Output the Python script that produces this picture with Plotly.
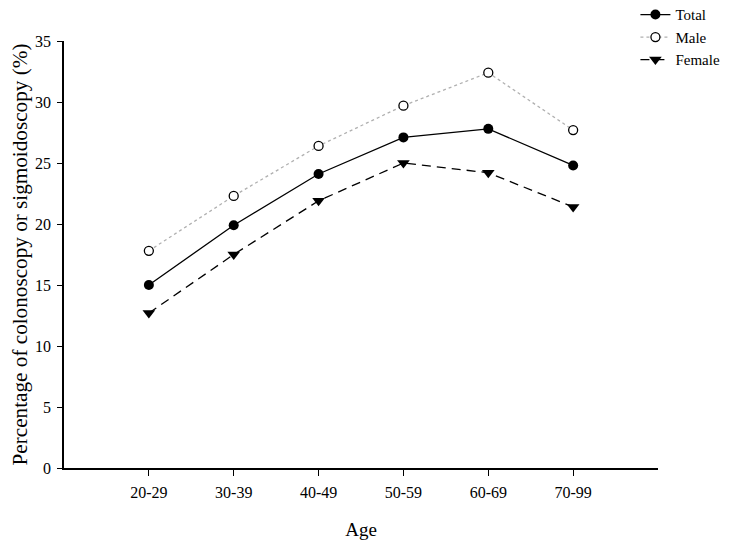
import plotly.graph_objects as go

age_groups = ["20-29", "30-39", "40-49", "50-59", "60-69", "70-99"]
total = [15.0, 19.9, 24.1, 27.1, 27.8, 24.8]
male = [17.8, 22.3, 26.4, 29.7, 32.4, 27.7]
female = [12.7, 17.5, 21.9, 25.0, 24.2, 21.4]
y_ticks = [0, 5, 10, 15, 20, 25, 30, 35]

FONT = "Liberation Serif, Times New Roman, serif"
x_idx = list(range(len(age_groups)))

fig = go.Figure()
fig.add_trace(go.Scatter(
    x=x_idx, y=total, name="Total", mode="lines+markers",
    line=dict(color="black", width=1.3),
    marker=dict(symbol="circle", size=10, color="black"),
))
fig.add_trace(go.Scatter(
    x=x_idx, y=male, name="Male", mode="lines+markers",
    line=dict(color="#b0b0b0", width=1.3, dash="dot"),
    marker=dict(symbol="circle", size=9, color="white",
                line=dict(color="black", width=1.3)),
))
fig.add_trace(go.Scatter(
    x=x_idx, y=female, name="Female", mode="lines+markers",
    line=dict(color="black", width=1.3, dash="9px,6px"),
    marker=dict(symbol="triangle-down", size=11, color="black"),
))

# the page body adds an 8px offset, so the figure is sized/margined to compensate
fig.update_layout(
    width=725, height=532,
    margin=dict(l=56, r=75, t=33, b=72, autoexpand=False),
    plot_bgcolor="white", paper_bgcolor="white",
    font=dict(family=FONT, size=16, color="black"),
    showlegend=True,
    legend=dict(x=0.962, y=1.1, xanchor="left", yanchor="top",
                bgcolor="rgba(0,0,0,0)", font=dict(size=15, family=FONT),
                tracegroupgap=0),
    xaxis=dict(
        range=[-1, 6], tickmode="array", tickvals=x_idx, ticktext=age_groups,
        tickfont=dict(family=FONT, size=16), ticklabelstandoff=3,
        showline=True, linecolor="black", linewidth=2,
        ticks="outside", ticklen=6, tickcolor="black", tickwidth=1.3,
        showgrid=False, zeroline=False,
        title=dict(text="Age", font=dict(size=19, family=FONT), standoff=24),
    ),
    yaxis=dict(
        range=[0, 35], tickmode="array", tickvals=y_ticks,
        tickfont=dict(family=FONT, size=16), ticklabelstandoff=3,
        showline=True, linecolor="black", linewidth=1.5,
        ticks="outside", ticklen=5, tickcolor="black", tickwidth=1.3,
        showgrid=False, zeroline=False,
        title=dict(text="Percentage of colonoscopy or sigmoidoscopy (%)",
                   font=dict(size=21.2, family=FONT), standoff=18),
    ),
)

fig.write_html("out.html")
